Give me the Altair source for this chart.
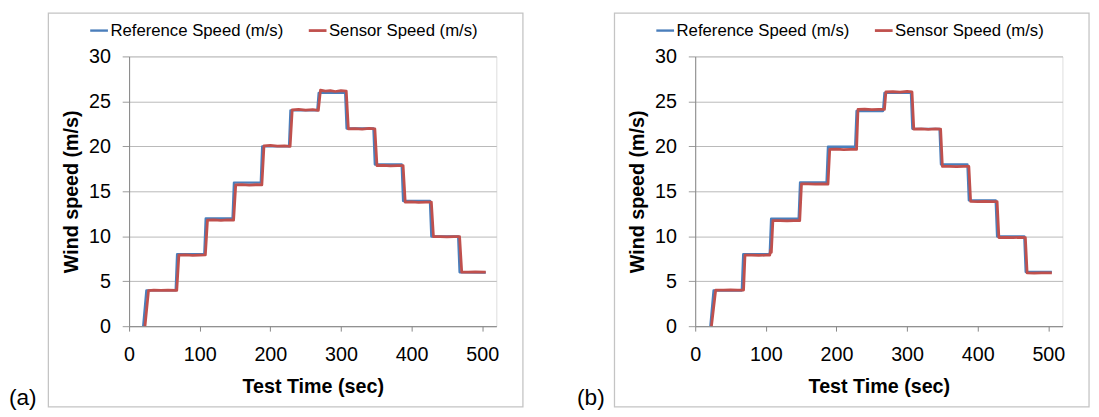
import altair as alt
import pandas as pd

FONT = "Liberation Sans"
BLUE = "#4a7ebb"
RED = "#c0504d"

series = ["Reference Speed (m/s)", "Sensor Speed (m/s)"]
x_ticks = [0, 100, 200, 300, 400, 500]
y_ticks = [0, 5, 10, 15, 20, 25, 30]

# ---- panel (a) ----
ref_a_t = [20, 24.5, 66, 68, 106.5, 108.5, 146.5, 148.5, 186.5, 188.5, 226.5, 228.5,
           266.5, 268.5, 306, 308, 346, 348, 386, 388, 426, 428, 466, 468, 505]
ref_a_v = [0, 3.98, 3.98, 8.0, 8.0, 11.98, 11.98, 15.97, 15.97, 20.0, 20.0, 24.0,
           24.0, 25.94, 25.94, 21.98, 21.98, 17.98, 17.98, 13.92, 13.92, 9.98, 9.98, 6.0, 5.95]

sen_a_t = [22.5, 27.5, 35, 45, 55, 67.5,
           70.5, 80, 90, 100, 108,
           111, 120, 130, 140, 148,
           151, 160, 170, 180, 188,
           191, 200, 210, 220, 228,
           231, 240, 250, 260, 268,
           271, 278, 285, 292, 300, 307.5,
           310.5, 320, 330, 340, 348,
           351, 360, 370, 380, 388,
           391, 400, 410, 420, 428,
           431, 440, 450, 460, 468,
           471, 480, 490, 505]
sen_a_v = [0, 3.95, 4.0, 3.97, 4.02, 3.97,
           7.9, 7.92, 7.88, 7.9, 7.92,
           11.8, 11.83, 11.78, 11.82, 11.8,
           15.72, 15.75, 15.7, 15.73, 15.72,
           20.05, 20.1, 20.02, 20.06, 20.0,
           24.05, 24.1, 24.02, 24.08, 24.0,
           26.25, 26.15, 26.2, 26.1, 26.2, 26.15,
           21.95, 21.98, 21.92, 22.0, 21.95,
           17.85, 17.88, 17.82, 17.86, 17.85,
           13.8, 13.82, 13.78, 13.8, 13.8,
           9.95, 9.97, 9.93, 9.96, 9.95,
           6.02, 6.0, 6.03, 6.0]

# ---- panel (b) ----
ref_b_t = [21.5, 26, 66, 68, 105.5, 107.5, 146.5, 148.5, 186, 188, 226.5, 228.5,
           266, 268, 305.5, 307.5, 346, 348, 385.5, 387.5, 425.5, 427.5, 466, 468, 505]
ref_b_v = [0, 3.97, 3.97, 8.0, 8.0, 11.95, 11.95, 16.0, 16.0, 19.95, 19.95, 23.93,
           23.93, 25.94, 25.94, 21.95, 21.95, 17.98, 17.98, 13.99, 13.99, 9.97, 9.97, 6.03, 6.03]

sen_b_t = [23, 29, 40, 50, 60, 68.5,
           70.5, 80, 90, 100, 105.5, 107, 107.8,
           110, 120, 130, 140, 148,
           150.5, 160, 170, 180, 188,
           190.5, 200, 210, 220, 228.5,
           230.5, 240, 250, 260, 268,
           270, 280, 290, 300, 307,
           309.5, 320, 330, 340, 347.5,
           350, 360, 370, 380, 387.5,
           390, 400, 410, 420, 427.5,
           430, 440, 450, 460, 467.5,
           470, 480, 490, 505]
sen_b_v = [0, 4.02, 4.0, 4.03, 4.0, 4.02,
           7.89, 7.9, 7.87, 7.9, 7.9, 8.5, 8.2,
           11.73, 11.75, 11.7, 11.74, 11.73,
           15.82, 15.84, 15.8, 15.83, 15.8,
           19.66, 19.68, 19.64, 19.67, 19.66,
           24.1, 24.14, 24.08, 24.12, 24.12,
           26.05, 26.08, 26.02, 26.1, 26.05,
           21.92, 21.94, 21.9, 21.93, 21.92,
           17.76, 17.78, 17.74, 17.77, 17.76,
           13.88, 13.86, 13.89, 13.86, 13.86,
           9.86, 9.88, 9.85, 9.87, 9.86,
           5.92, 5.9, 5.93, 5.92]


def frame(tr, vr, ts, vs):
    rows = []
    for i, (t, v) in enumerate(zip(tr, vr)):
        rows.append({"t": t, "v": v, "s": series[0], "o": i})
    for i, (t, v) in enumerate(zip(ts, vs)):
        rows.append({"t": t, "v": v, "s": series[1], "o": i})
    return pd.DataFrame(rows)


one = pd.DataFrame({"k": [0]})


def panel(df, tag, tag_x):
    lines = alt.Chart(df).mark_line(strokeJoin="round", strokeCap="butt").encode(
        x=alt.X("t:Q",
                scale=alt.Scale(domain=[0, 520], nice=False, zero=False),
                axis=alt.Axis(values=x_ticks, title="Test Time (sec)", grid=False,
                              domainColor="#868686", domainWidth=1,
                              tickColor="#868686", tickSize=5, tickWidth=1,
                              labelFont=FONT, labelFontSize=20, labelColor="black",
                              labelPadding=14, labelFlush=False, labelOverlap=False,
                              titleFont=FONT, titleFontSize=20, titleFontWeight="bold",
                              titleColor="black", titlePadding=12)),
        y=alt.Y("v:Q",
                scale=alt.Scale(domain=[0, 30], nice=False),
                axis=alt.Axis(values=y_ticks, title="Wind speed (m/s)", grid=True,
                              gridColor="#b9b9b9", gridWidth=1,
                              domainColor="#868686", domainWidth=1,
                              tickColor="#9a9a9a", tickSize=7, tickWidth=1,
                              labelFont=FONT, labelFontSize=20, labelColor="black",
                              labelPadding=12, labelFlush=False, labelOverlap=False,
                              titleFont=FONT, titleFontSize=20, titleFontWeight="bold",
                              titleColor="black", titlePadding=7)),
        color=alt.Color("s:N",
                        scale=alt.Scale(domain=series, range=[BLUE, RED]),
                        legend=alt.Legend(orient="none", legendX=-41, legendY=-37,
                                          direction="horizontal", title=None,
                                          symbolType="stroke", symbolSize=324,
                                          symbolStrokeWidth=2.5,
                                          labelFont=FONT, labelFontSize=17,
                                          labelColor="black", labelOffset=1,
                                          columnPadding=19, padding=0,
                                          labelLimit=400)),
        strokeWidth=alt.StrokeWidth("s:N",
                                    scale=alt.Scale(domain=series, range=[2.4, 2.8]),
                                    legend=None),
        order="o:Q",
    )
    box = alt.Chart(one).mark_rect(fillOpacity=0, stroke="#c4c4c4", strokeWidth=1.3).encode(
        x=alt.value(-82), x2=alt.value(400), y=alt.value(-44), y2=alt.value(356)
    )
    label = alt.Chart(one).mark_text(text=tag, align="left", baseline="middle",
                                     font=FONT, fontSize=23, color="black").encode(
        x=alt.value(tag_x), y=alt.value(347)
    )
    return alt.layer(box, lines, label).properties(width=373, height=274)


pa = panel(frame(ref_a_t, ref_a_v, sen_a_t, sen_a_v), "(a)", -122)
pb = panel(frame(ref_b_t, ref_b_v, sen_b_t, sen_b_v), "(b)", -120)

chart = alt.hconcat(pa, pb, spacing=202, bounds="flush").resolve_legend(
    color="independent", strokeWidth="independent"
).resolve_scale(x="independent", y="independent").properties(
    padding=0
).configure_view(stroke=None).configure(background="white")

chart.save("out.html", embed_options={"renderer": "svg", "actions": False})
